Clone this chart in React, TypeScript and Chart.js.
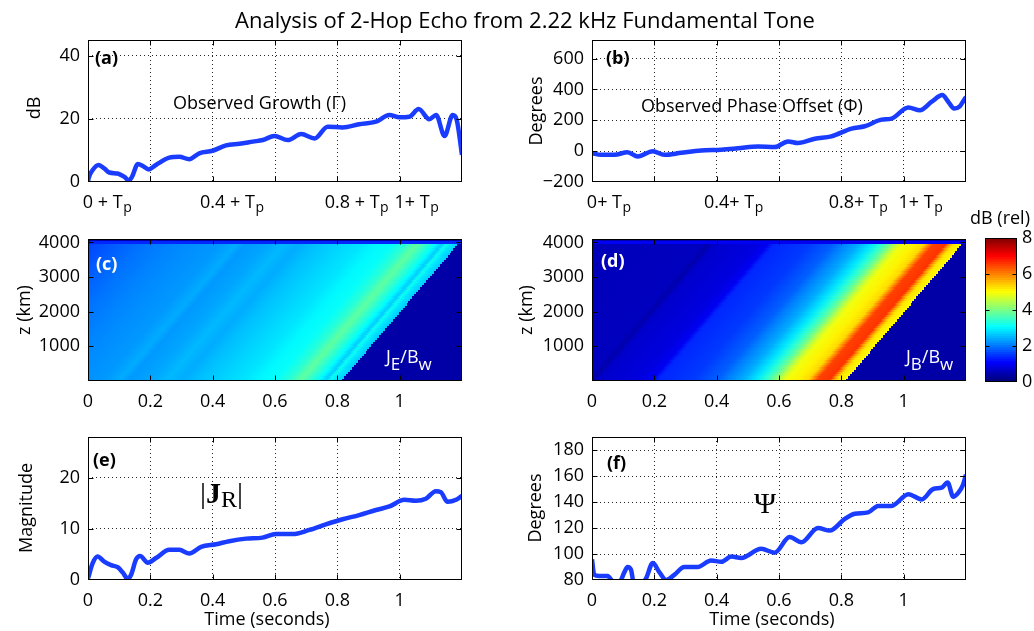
import { useEffect, useRef } from 'react';
import { Chart, registerables } from 'chart.js';
Chart.register(...registerables);

const PAGE_W = 1034;
const PAGE_H = 631;
const SANS = "'Open Sans', 'DejaVu Sans', sans-serif";
const SERIF = "'Liberation Serif', 'DejaVu Serif', serif";
const LINE_COLOR = '#1a3cff';
const Y_AXIS_W = 60;
const X_AXIS_H = 40;

// ---------- ticks ----------
const timeGrid = [0, 0.2, 0.4, 0.6, 0.8, 1, 1.2];
const topTickValues = [0, 0.4, 0.8, 1];
const topTickNumbers = ['0', '0.4', '0.8', '1'];
const topTickSuffixA = [' + T', ' + T', ' + T', '+ T'];
const topTickSuffixB = ['+ T', '+ T', '+ T', '+ T'];
const yTicksA = [0, 20, 40];
const yTicksB = [-200, 0, 200, 400, 600];
const yTicksCD = [1000, 2000, 3000, 4000];
const yTicksE = [0, 10, 20];
const yTicksF = [80, 100, 120, 140, 160, 180];
const colorbarTicks = [0, 2, 4, 6, 8];

// ---------- (a) observed growth (dB) ----------
const timeA = [0, 0.002, 0.015, 0.034, 0.052, 0.068, 0.095, 0.117, 0.131, 0.141, 0.16, 0.176, 0.195, 0.218, 0.261, 0.293, 0.325, 0.357, 0.4, 0.443, 0.486, 0.529, 0.561, 0.598, 0.641, 0.684, 0.727, 0.769, 0.817, 0.87, 0.924, 0.967, 0.999, 1.031, 1.061, 1.095, 1.117, 1.144, 1.17, 1.183, 1.2];
const growthA = [0, 1.2, 3.8, 5.4, 4.3, 3.0, 2.7, 1.6, 0.5, 1.6, 5.7, 5.1, 4.0, 5.4, 7.7, 8.0, 7.2, 9.1, 9.9, 11.6, 12.1, 12.8, 13.3, 14.6, 13.3, 15.2, 13.8, 17.5, 17.3, 18.3, 19.1, 21.2, 20.5, 20.7, 23.1, 19.9, 21.2, 14.6, 21.2, 19.7, 8.6];

// ---------- (b) observed phase offset (degrees) ----------
const timeB = [0, 0.029, 0.072, 0.114, 0.147, 0.195, 0.232, 0.286, 0.35, 0.415, 0.468, 0.533, 0.586, 0.629, 0.661, 0.715, 0.768, 0.833, 0.875, 0.929, 0.961, 1.015, 1.052, 1.09, 1.124, 1.143, 1.162, 1.18, 1.19, 1.2];
const phaseB = [-13, -24, -24, -7, -35, 0, -24, -11, 4, 9, 18, 30, 26, 63, 52, 80, 96, 146, 161, 204, 211, 283, 265, 320, 363, 320, 276, 290, 320, 350];

// ---------- (e) |J_R| magnitude ----------
const timeE = [0, 0.015, 0.031, 0.052, 0.074, 0.095, 0.111, 0.127, 0.138, 0.154, 0.167, 0.192, 0.218, 0.261, 0.293, 0.325, 0.363, 0.411, 0.453, 0.507, 0.56, 0.603, 0.656, 0.71, 0.763, 0.817, 0.87, 0.924, 0.967, 1.015, 1.052, 1.084, 1.116, 1.132, 1.154, 1.181, 1.2];
const magnitudeE = [0.3, 3.3, 4.6, 3.6, 2.9, 2.5, 1.5, 0.3, 1.0, 4.0, 4.7, 3.4, 4.3, 5.9, 5.9, 5.2, 6.5, 7.0, 7.6, 8.1, 8.3, 9.0, 9.0, 9.8, 10.9, 11.9, 12.7, 13.7, 14.4, 15.7, 15.5, 15.9, 17.4, 17.2, 15.3, 15.7, 16.5];

// ---------- (f) Psi (degrees) ----------
const timeF = [0, 0.007, 0.023, 0.05, 0.066, 0.087, 0.104, 0.114, 0.125, 0.134, 0.15, 0.173, 0.195, 0.216, 0.238, 0.264, 0.296, 0.339, 0.382, 0.415, 0.447, 0.479, 0.543, 0.586, 0.634, 0.672, 0.725, 0.763, 0.811, 0.843, 0.886, 0.918, 0.961, 1.015, 1.058, 1.095, 1.122, 1.141, 1.159, 1.175, 1.19, 1.2];
const psiF = [96, 84, 83, 83, 79, 78, 86, 90, 88, 77, 74, 81, 93, 86, 80, 84, 90, 90, 95, 94, 98, 97, 104, 101, 113, 109, 120, 118, 127, 131, 132, 137, 137, 146, 142, 150, 151, 155, 144, 147, 153, 161];

// ---------- (c)/(d) heat maps: value (dB rel) along diagonal stripes, keyed by time at z = 0 ----------
const stripeTimeC = [-0.38, -0.3, -0.2, -0.1, 0.0, 0.05, 0.1, 0.13, 0.2, 0.25, 0.3, 0.35, 0.4, 0.45, 0.5, 0.55, 0.6, 0.64, 0.68, 0.71, 0.74, 0.76, 0.775, 0.79, 0.812];
const stripeValueC = [1.5, 1.7, 1.9, 2.05, 2.15, 2.2, 2.35, 2.2, 2.3, 2.45, 2.35, 2.5, 2.6, 2.7, 2.8, 2.95, 3.05, 3.3, 3.75, 3.4, 3.0, 2.6, 3.1, 2.8, 2.6];
const stripeTimeD = [-0.38, -0.02, 0.0, 0.02, 0.15, 0.19, 0.21, 0.32, 0.36, 0.4, 0.43, 0.48, 0.52, 0.55, 0.58, 0.6, 0.62, 0.66, 0.69, 0.705, 0.72, 0.76, 0.772, 0.785, 0.812];
const stripeValueD = [0.45, 0.5, 0.35, 0.6, 0.75, 0.9, 1.3, 1.45, 1.6, 1.75, 2.0, 2.35, 2.8, 3.3, 3.9, 4.5, 4.9, 5.1, 5.3, 5.9, 6.5, 6.6, 5.8, 5.2, 5.0];
const stripeSlope = 9.5e-5; // seconds of delay per km of altitude
const heatTopZ = 3960;
const heatRowDz = 66;
const heatBackground = 0.3;
const heatTopBandC = [1.3, 0.3];
const heatTopBandD = [0.9, 0.3];
const colorbarMax = 8;
const colorbarSteps = 64;

type Rect = { l: number; t: number; r: number; b: number };
const rectA: Rect = { l: 88, t: 40, r: 462, b: 182 };
const rectB: Rect = { l: 592, t: 40, r: 966, b: 182 };
const rectC: Rect = { l: 88, t: 239, r: 462, b: 381 };
const rectD: Rect = { l: 592, t: 239, r: 966, b: 381 };
const rectE: Rect = { l: 88, t: 437, r: 462, b: 580 };
const rectF: Rect = { l: 592, t: 437, r: 966, b: 580 };
const rectCB: Rect = { l: 985, t: 238, r: 1017, b: 382 };

function jetRGB(v: number): [number, number, number] {
  const c = (x: number) => Math.max(0, Math.min(1, x));
  return [c(1.5 - Math.abs(4 * v - 3)), c(1.5 - Math.abs(4 * v - 2)), c(1.5 - Math.abs(4 * v - 1))];
}
function jet(v: number): string {
  const [r, g, b] = jetRGB(v);
  return `rgb(${Math.round(r * 255)},${Math.round(g * 255)},${Math.round(b * 255)})`;
}

function pad(r: Rect) {
  return { left: r.l - Y_AXIS_W, top: r.t, right: PAGE_W - r.r, bottom: PAGE_H - r.b - X_AXIS_H };
}

const gridColor = (min: number, max: number) => (ctx: any) => {
  const v = ctx.tick ? ctx.tick.value : undefined;
  if (v === undefined || Math.abs(v - min) < 1e-9 || Math.abs(v - max) < 1e-9) return 'rgba(0,0,0,0)';
  return 'rgba(0,0,0,0.85)';
};

function xScale(showLabels: boolean, withGrid: boolean) {
  return {
    type: 'linear', min: 0, max: 1.2,
    afterBuildTicks: (s: any) => { s.ticks = timeGrid.map((v) => ({ value: v })); },
    afterFit: (s: any) => { s.height = X_AXIS_H; },
    grid: { display: withGrid, drawTicks: false, lineWidth: 1, color: gridColor(0, 1.2) },
    border: { display: false, dash: [1, 3] },
    ticks: {
      display: showLabels, autoSkip: false, maxRotation: 0, padding: 10, color: '#000',
      font: { family: SANS, size: 18 },
      callback: (v: any) => (Number(v) > 1.19 ? '' : String(+Number(v).toFixed(1))),
    },
  };
}

function yScale(min: number, max: number, ticks: number[], withGrid: boolean) {
  return {
    type: 'linear', min, max,
    afterBuildTicks: (s: any) => { s.ticks = ticks.map((v) => ({ value: v })); },
    afterFit: (s: any) => { s.width = Y_AXIS_W; },
    grid: { display: withGrid, drawTicks: false, lineWidth: 1, color: gridColor(min, max) },
    border: { display: false, dash: [1, 3] },
    ticks: {
      padding: 8, color: '#000', font: { family: SANS, size: 18 },
      callback: (v: any) => (Number(v) < 0 ? '\u2212' + Math.abs(Number(v)) : String(v)),
    },
  };
}

function framePlugin(len: number, withX: boolean) {
  return {
    id: 'frame',
    afterDraw(chart: any) {
      const { ctx, chartArea: a } = chart;
      ctx.save();
      ctx.strokeStyle = '#000';
      ctx.lineWidth = 1;
      ctx.setLineDash([]);
      const L = Math.round(a.left) + 0.5, T = Math.round(a.top) + 0.5;
      const R = Math.round(a.right) - 0.5, B = Math.round(a.bottom) - 0.5;
      ctx.strokeRect(L, T, R - L, B - T);
      ctx.beginPath();
      const xs = chart.scales.x;
      if (withX && xs) {
        for (const t of xs.ticks) {
          const p = Math.round(xs.getPixelForValue(t.value)) + 0.5;
          if (p <= L + 1 || p >= R - 1) continue;
          ctx.moveTo(p, B); ctx.lineTo(p, B - len);
          ctx.moveTo(p, T); ctx.lineTo(p, T + len);
        }
      }
      const ys = chart.scales.y;
      for (const t of ys.ticks) {
        const p = Math.round(ys.getPixelForValue(t.value)) + 0.5;
        if (p <= T + 1 || p >= B - 1) continue;
        ctx.moveTo(L, p); ctx.lineTo(L + len, p);
        ctx.moveTo(R, p); ctx.lineTo(R - len, p);
      }
      ctx.stroke();
      ctx.restore();
    },
  };
}

function heatPlugin(us: number[], vs: number[], band: number[]) {
  return {
    id: 'heat',
    beforeDatasetsDraw(chart: any) {
      const { ctx, chartArea: a, scales } = chart;
      const x = scales.x, y = scales.y;
      ctx.save();
      ctx.beginPath();
      ctx.rect(a.left, a.top, a.right - a.left, a.bottom - a.top);
      ctx.clip();
      ctx.fillStyle = jet(heatBackground / colorbarMax);
      ctx.fillRect(a.left, a.top, a.right - a.left, a.bottom - a.top);
      const u0 = us[0], u1 = us[us.length - 1];
      for (let z = 0; z < heatTopZ; z += heatRowDz) {
        const yb = Math.round(y.getPixelForValue(z));
        const yt = Math.round(y.getPixelForValue(Math.min(heatTopZ, z + heatRowDz)));
        const shift = stripeSlope * (z + heatRowDz / 2);
        const x0 = x.getPixelForValue(u0 + shift);
        const x1 = x.getPixelForValue(u1 + shift);
        const g = ctx.createLinearGradient(x0, 0, x1, 0);
        us.forEach((u, i) => g.addColorStop((u - u0) / (u1 - u0), jet(vs[i] / colorbarMax)));
        ctx.fillStyle = g;
        const xe = Math.round(x1);
        ctx.fillRect(a.left, yt, xe - a.left, yb - yt);
      }
      const zMax = y.max;
      const zMid = (heatTopZ + zMax) / 2;
      ctx.fillStyle = jet(band[0] / colorbarMax);
      const ym = Math.round(y.getPixelForValue(zMid));
      const yh = Math.round(y.getPixelForValue(heatTopZ));
      ctx.fillRect(a.left, ym, a.right - a.left, yh - ym);
      ctx.fillStyle = jet(band[1] / colorbarMax);
      ctx.fillRect(a.left, a.top, a.right - a.left, ym - a.top);
      ctx.restore();
    },
  };
}

function textPlugin(draw: (ctx: CanvasRenderingContext2D, chart: any) => void) {
  return {
    id: 'texts',
    afterDraw(chart: any) {
      const ctx = chart.ctx;
      ctx.save();
      draw(ctx, chart);
      ctx.restore();
    },
  };
}

function txt(ctx: CanvasRenderingContext2D, s: string, x: number, y: number, font: string, color = '#000', align: CanvasTextAlign = 'left') {
  ctx.font = font;
  ctx.fillStyle = color;
  ctx.textAlign = align;
  ctx.textBaseline = 'alphabetic';
  ctx.fillText(s, x, y);
}
function vtxt(ctx: CanvasRenderingContext2D, s: string, cx: number, cy: number) {
  ctx.save();
  ctx.translate(cx, cy);
  ctx.rotate(-Math.PI / 2);
  ctx.font = `18px ${SANS}`;
  ctx.fillStyle = '#000';
  ctx.textAlign = 'center';
  ctx.textBaseline = 'middle';
  ctx.fillText(s, 0, 0);
  ctx.restore();
}
function runs(ctx: CanvasRenderingContext2D, parts: [string, string, number][], x: number, y: number, color: string) {
  let cx = x;
  for (const [s, f, dy] of parts) {
    ctx.font = f;
    ctx.fillStyle = color;
    ctx.textAlign = 'left';
    ctx.textBaseline = 'alphabetic';
    ctx.fillText(s, cx, y + dy);
    cx += ctx.measureText(s).width;
  }
}
function topTicks(ctx: CanvasRenderingContext2D, chart: any, suffix: string[]) {
  const xs = chart.scales.x;
  topTickValues.forEach((v, i) => {
    const px = xs.getPixelForValue(v);
    ctx.font = `18px ${SANS}`;
    const wn = ctx.measureText(topTickNumbers[i]).width;
    const s = topTickNumbers[i] + suffix[i];
    txt(ctx, s, px - wn / 2, 208, `18px ${SANS}`);
    const w = ctx.measureText(s).width;
    txt(ctx, 'p', px - wn / 2 + w + 0.5, 212, `14px ${SANS}`);
  });
}

const baseOptions = (r: Rect) => ({
  responsive: false,
  animation: false,
  devicePixelRatio: 1,
  events: [],
  layout: { padding: pad(r) },
  plugins: { legend: { display: false }, tooltip: { enabled: false }, title: { display: false } },
});

function lineDataset(ts: number[], vs: number[]) {
  return {
    data: ts.map((t, i) => ({ x: t, y: vs[i] })),
    borderColor: LINE_COLOR,
    borderWidth: 4.5,
    pointRadius: 0,
    fill: false,
    cubicInterpolationMode: 'monotone',
    clip: 0,
  };
}

function lineConfig(r: Rect, ts: number[], vs: number[], yMin: number, yMax: number, yT: number[], showX: boolean, extra: any[]) {
  return {
    type: 'line',
    data: { datasets: [lineDataset(ts, vs)] },
    options: {
      ...baseOptions(r),
      scales: { x: xScale(showX, true), y: yScale(yMin, yMax, yT, true) },
    },
    plugins: [framePlugin(5, true), ...extra],
  };
}

function heatConfig(r: Rect, us: number[], vs: number[], band: number[], extra: any[]) {
  return {
    type: 'scatter',
    data: { datasets: [{ data: [] }] },
    options: {
      ...baseOptions(r),
      scales: { x: xScale(true, false), y: yScale(0, 4100, yTicksCD, false) },
    },
    plugins: [heatPlugin(us, vs, band), framePlugin(5, true), ...extra],
  };
}

function colorbarConfig() {
  const step = colorbarMax / colorbarSteps;
  const datasets = Array.from({ length: colorbarSteps }, (_, i) => ({
    data: [[i * step, Math.min(colorbarMax, (i + 1) * step + 0.02)]],
    backgroundColor: jet(i / (colorbarSteps - 1)),
    borderWidth: 0,
    grouped: false,
    barPercentage: 1,
    categoryPercentage: 1,
  }));
  return {
    type: 'bar',
    data: { labels: ['dB'], datasets },
    options: {
      responsive: false,
      animation: false,
      devicePixelRatio: 1,
      events: [],
      layout: { padding: { left: rectCB.l, top: rectCB.t, right: PAGE_W - rectCB.r - 17, bottom: PAGE_H - rectCB.b } },
      plugins: { legend: { display: false }, tooltip: { enabled: false } },
      scales: {
        x: { type: 'category', display: false },
        y: {
          type: 'linear', position: 'right', min: 0, max: colorbarMax,
          afterBuildTicks: (s: any) => { s.ticks = colorbarTicks.map((v) => ({ value: v })); },
          afterFit: (s: any) => { s.width = 17; },
          grid: { display: false, drawTicks: false },
          border: { display: false },
          ticks: { padding: 5, color: '#000', font: { family: SANS, size: 18 } },
        },
      },
    },
    plugins: [
      framePlugin(4, false),
      textPlugin((ctx) => {
        txt(ctx, 'dB (rel)', 1000, 224, `18px ${SANS}`, '#000', 'center');
      }),
    ],
  };
}

export default function App() {
  const refs = [useRef<HTMLCanvasElement>(null), useRef<HTMLCanvasElement>(null), useRef<HTMLCanvasElement>(null), useRef<HTMLCanvasElement>(null), useRef<HTMLCanvasElement>(null), useRef<HTMLCanvasElement>(null), useRef<HTMLCanvasElement>(null)];

  useEffect(() => {
    const configs: any[] = [
      lineConfig(rectA, timeA, growthA, 0, 45, yTicksA, false, [
        textPlugin((ctx, chart) => {
          txt(ctx, 'Analysis of 2-Hop Echo from 2.22 kHz Fundamental Tone', 525, 28, `22px ${SANS}`, '#000', 'center');
          txt(ctx, '(a)', 95, 64, `bold 18px ${SANS}`);
          txt(ctx, 'Observed Growth (\u0393)', 173, 109, `18px ${SANS}`);
          vtxt(ctx, 'dB', 35, 108);
          topTicks(ctx, chart, topTickSuffixA);
        }),
      ]),
      lineConfig(rectB, timeB, phaseB, -200, 720, yTicksB, false, [
        textPlugin((ctx, chart) => {
          txt(ctx, '(b)', 606, 64, `bold 18px ${SANS}`);
          txt(ctx, 'Observed Phase Offset (\u03A6)', 641, 112, `18px ${SANS}`);
          vtxt(ctx, 'Degrees', 537, 111);
          topTicks(ctx, chart, topTickSuffixB);
        }),
      ]),
      heatConfig(rectC, stripeTimeC, stripeValueC, heatTopBandC, [
        textPlugin((ctx) => {
          txt(ctx, '(c)', 96, 270, `bold 18px ${SANS}`, '#fff');
          vtxt(ctx, 'z (km)', 25, 310);
          runs(ctx, [['J', `18px ${SANS}`, 0], ['E', `17px ${SANS}`, 7], ['/B', `18px ${SANS}`, 0], ['w', `17px ${SANS}`, 7]], 386, 363, '#fff');
        }),
      ]),
      heatConfig(rectD, stripeTimeD, stripeValueD, heatTopBandD, [
        textPlugin((ctx) => {
          txt(ctx, '(d)', 601, 267, `bold 18px ${SANS}`, '#fff');
          vtxt(ctx, 'z (km)', 527, 310);
          runs(ctx, [['J', `18px ${SANS}`, 0], ['B', `17px ${SANS}`, 7], ['/B', `18px ${SANS}`, 0], ['w', `17px ${SANS}`, 7]], 906, 363, '#fff');
        }),
      ]),
      lineConfig(rectE, timeE, magnitudeE, 0, 28, yTicksE, true, [
        textPlugin((ctx) => {
          txt(ctx, '(e)', 93, 466, `bold 18px ${SANS}`);
          runs(ctx, [['|', `30px ${SERIF}`, 0], ['J', `bold 30px ${SERIF}`, 0], ['R', `24px ${SERIF}`, 4], ['|', `30px ${SERIF}`, 0]], 200, 503, '#000');
          vtxt(ctx, 'Magnitude', 27, 508);
          txt(ctx, 'Time (seconds)', 267, 625, `18px ${SANS}`, '#000', 'center');
        }),
      ]),
      lineConfig(rectF, timeF, psiF, 80, 190, yTicksF, true, [
        textPlugin((ctx) => {
          txt(ctx, '(f)', 607, 469, `bold 18px ${SANS}`);
          txt(ctx, '\u03A8', 765, 513, `30px ${SERIF}`, '#000', 'center');
          vtxt(ctx, 'Degrees', 536, 508);
          txt(ctx, 'Time (seconds)', 772, 625, `18px ${SANS}`, '#000', 'center');
        }),
      ]),
      colorbarConfig(),
    ];
    const charts = configs.map((cfg, i) => new Chart(refs[i].current as HTMLCanvasElement, cfg));
    return () => charts.forEach((c) => c.destroy());
  }, []);

  return (
    <div style={{ position: 'absolute', left: 0, top: 0, width: PAGE_W, height: PAGE_H, background: '#fff' }}>
      {refs.map((r, i) => (
        <canvas key={i} ref={r} width={PAGE_W} height={PAGE_H} style={{ position: 'absolute', left: 0, top: 0 }} />
      ))}
    </div>
  );
}
